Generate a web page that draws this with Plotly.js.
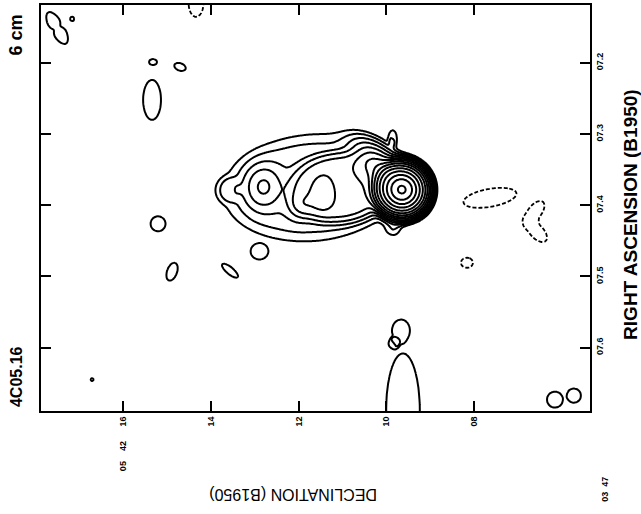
<!DOCTYPE html>
<html>
<head>
<meta charset="utf-8">
<script src="https://cdn.plot.ly/plotly-3.0.1.min.js"></script>
<style>
  html, body { margin: 0; padding: 0; background: #fff; }
  #chart { width: 641px; height: 514px; }
</style>
</head>
<body>
<div id="chart"></div>
<script>
// Axis ticks: declination in arcsec past 05 42, right ascension in seconds past 03 47
const decTicks = [16, 14, 12, 10, 8];
const decTickText = ["16", "14", "12", "10", "08"];
const raTicks = [7.2, 7.3, 7.4, 7.5, 7.6];
const raTickText = ["07.2", "07.3", "07.4", "07.5", "07.6"];

// Brightness components of the 6 cm map of 4C05.16
// (position, peak in units of the lowest contour, widths in arcsec, orientation, profile sharpness)
//   0-2 core, 3-10 lobe and jet, 11-31 faint patches
const compDec   = [9.645, 9.645, 10.032,
                   11.695, 11.057, 11.467, 11.968, 12.811, 13.608, 9.850, 9.827,
                   17.503, 17.503, 17.162, 14.337, 15.317, 14.702, 15.339, 15.203, 14.884, 13.563,
                   12.902, 16.706, 7.640, 6.615, 6.569, 8.164, 9.667, 9.850, 9.622, 6.159, 5.727];
const compRA    = [7.3782, 7.3782, 7.3530,
                   7.3754, 7.3754, 7.3867, 7.4021, 7.3740, 7.3782, 7.3039, 7.4344,
                   7.1509, 7.1509, 7.1382, 7.1158, 7.1986, 7.2056, 7.2519, 7.4260, 7.4933, 7.4919,
                   7.4667, 7.6449, 7.3895, 7.4091, 7.4372, 7.4807, 7.5761, 7.5944, 7.6884, 7.6730, 7.6674];
const compAmp   = [91, 40, 8,
                   1.9, 3.5, 1.5, 1.5, 2.5, 0.6, 0.9, 1.0,
                   1.3, -0.28, 1.3, -1.3, 1.3, 1.3, 1.3, 1.3, 1.3, 1.3,
                   0.95, 1.3, -1.3, -1.3, -1.3, -1.3, 1.25, 1.1, 1.3, 1.3, 1.3];
const compSigA  = [0.205, 0.483, 0.50,
                   1.89, 1.00, 0.27, 0.20, 0.27, 0.25, 0.10, 0.16,
                   0.48, 0.30, 0.068, 0.20, 0.106, 0.16, 0.535, 0.20, 0.25, 0.27,
                   0.22, 0.045, 0.72, 0.34, 0.34, 0.16, 0.29, 0.137, 1.39, 0.203, 0.18];
const compSigB  = [0.205, 0.483, 0.23,
                   1.14, 0.68, 0.16, 0.20, 0.32, 0.25, 0.20, 0.16,
                   0.19, 0.08, 0.068, 0.37, 0.076, 0.10, 0.24, 0.20, 0.135, 0.093,
                   0.20, 0.045, 0.24, 0.18, 0.18, 0.135, 0.235, 0.137, 0.41, 0.203, 0.18];
const compAngle = [0, 0, 135,
                   5, 5, 90, 0, 0, 0, 0, 0,
                   -60, 30, 0, 0, 0, -20, 90, 0, 70, -40,
                   0, 0, 10, 51, -46, 0, 90, 0, 90, 0, 0];
const compPower = [1, 2, 1,
                   2, 3, 1, 1, 1, 2, 2, 1,
                   2, 1, 2, 2, 2, 2, 2, 2, 2, 2,
                   3, 1, 2, 2, 2, 2, 3, 3, 5, 3, 3];

// Contour levels (multiples of the lowest level, steps of sqrt 2); negatives dashed
const posLevels = [1, 1.41, 2, 2.83, 4, 5.66, 8, 11.3, 16, 22.6, 32, 45.3, 64, 90.5, 128];
const negLevels = [-1];

// Screen scale of one second of RA, expressed in arcsec of declination
const raScale = 16.23;

const nC = compDec.length;
const cosA = compAngle.map(a => Math.cos(a * Math.PI / 180));
const sinA = compAngle.map(a => Math.sin(a * Math.PI / 180));

function brightness(dec, ra) {
  let s = 0;
  for (let k = 0; k < nC; k++) {
    const u = compDec[k] - dec;
    const v = (compRA[k] - ra) * raScale;
    const a = (u * cosA[k] + v * sinA[k]) / compSigA[k];
    const b = (-u * sinA[k] + v * cosA[k]) / compSigB[k];
    const q = a * a + b * b;
    if (q > 60) continue;
    s += compAmp[k] * Math.exp(-0.5 * Math.pow(q, compPower[k]));
  }
  return s;
}

const decGrid = [];
for (let d = 5.25; d <= 17.95; d += 0.03) decGrid.push(+d.toFixed(3));
const raGrid = [];
for (let r = 7.105; r <= 7.705; r += 0.0014) raGrid.push(+r.toFixed(5));

const zPos = [], zNeg = [];
for (let j = 0; j < raGrid.length; j++) {
  const rowP = [], rowN = [];
  for (let i = 0; i < decGrid.length; i++) {
    const s = brightness(decGrid[i], raGrid[j]);
    rowP.push(s > 0 ? Math.log2(s) : -30);
    rowN.push(-s);
  }
  zPos.push(rowP);
  zNeg.push(rowN);
}

const log2Levels = posLevels.map(l => Math.log2(l));

const traces = [
  {
    type: 'contour', x: decGrid, y: raGrid, z: zPos,
    autocontour: false,
    contours: { start: log2Levels[0], end: log2Levels[log2Levels.length - 1], size: 0.5,
                coloring: 'none', showlabels: false },
    line: { color: '#000', width: 2, smoothing: 1 },
    showscale: false, hoverinfo: 'skip'
  },
  {
    type: 'contour', x: decGrid, y: raGrid, z: zNeg,
    autocontour: false,
    contours: { start: -negLevels[0], end: -negLevels[0], size: 1,
                coloring: 'none', showlabels: false },
    line: { color: '#000', width: 1.8, dash: '4px,2px', smoothing: 1 },
    showscale: false, hoverinfo: 'skip'
  }
];

const fontFam = 'Liberation Sans, Arial, Helvetica, sans-serif';
const tickFont = { family: fontFam, size: 9, color: '#000', weight: 'bold' };

const layout = {
  width: 641, height: 514,
  margin: { l: 41, r: 51, t: 5, b: 103, pad: 0 },
  paper_bgcolor: '#fff', plot_bgcolor: '#fff',
  showlegend: false,
  font: { family: fontFam, color: '#000' },
  xaxis: {
    range: [17.87, 5.36],
    tickvals: decTicks, ticktext: decTickText, tickangle: -90,
    ticks: 'inside', ticklen: 10, tickwidth: 2, tickcolor: '#000',
    showline: true, linewidth: 2, linecolor: '#000', mirror: 'allticks',
    showgrid: false, zeroline: false, tickfont: tickFont
  },
  yaxis: {
    range: [7.689, 7.1186], side: 'right',
    tickvals: raTicks, ticktext: raTickText, tickangle: -90,
    ticks: 'inside', ticklen: 10, tickwidth: 2, tickcolor: '#000',
    showline: true, linewidth: 2, linecolor: '#000', mirror: 'allticks',
    showgrid: false, zeroline: false, tickfont: tickFont
  },
  annotations: [
    { text: '6 cm', xref: 'paper', yref: 'paper', x: -0.0455, y: 0.925,
      textangle: -90, showarrow: false, xanchor: 'center', yanchor: 'middle',
      font: { family: fontFam, size: 18, weight: 'bold' } },
    { text: '4C05.16', xref: 'paper', yref: 'paper', x: -0.0455, y: 0.0837,
      textangle: -90, showarrow: false, xanchor: 'center', yanchor: 'middle',
      font: { family: fontFam, size: 16, weight: 'bold' } },
    { text: '05\u00a0\u00a0\u00a0\u00a042', xref: 'x', yref: 'paper', x: 16, y: -0.111,
      textangle: -90, showarrow: false, xanchor: 'center', yanchor: 'middle',
      font: tickFont },
    { text: '03\u00a0\u00a047', xref: 'paper', yref: 'paper', x: 1.027, y: -0.192,
      textangle: -90, showarrow: false, xanchor: 'center', yanchor: 'middle',
      font: tickFont },
    { text: 'DECLINATION (B1950)', xref: 'paper', yref: 'paper', x: 0.459, y: -0.207,
      textangle: 180, showarrow: false, xanchor: 'center', yanchor: 'middle',
      font: { family: fontFam, size: 16 } },
    { text: 'RIGHT ASCENSION (B1950)', xref: 'paper', yref: 'paper', x: 1.0725, y: 0.485,
      textangle: -90, showarrow: false, xanchor: 'center', yanchor: 'middle',
      font: { family: fontFam, size: 19, weight: 'bold' } }
  ]
};

Plotly.newPlot('chart', traces, layout, { displayModeBar: false, staticPlot: true });
</script>
</body>
</html>
